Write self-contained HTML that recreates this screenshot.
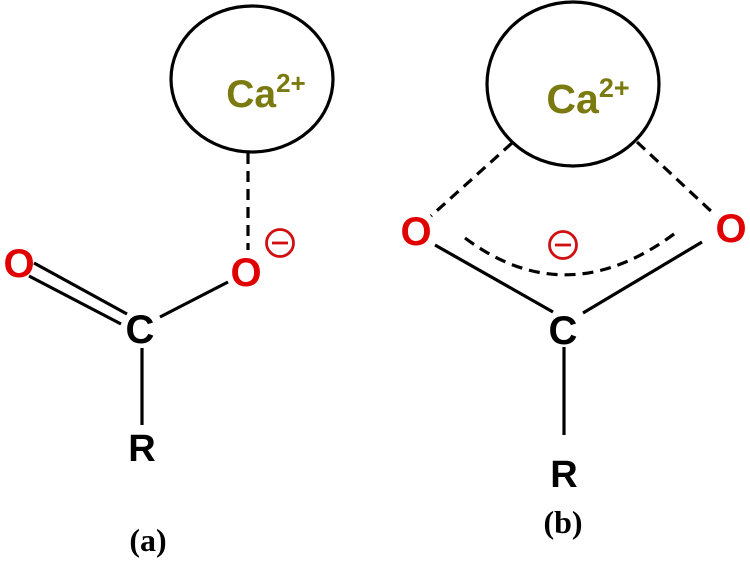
<!DOCTYPE html>
<html><head><style>body{margin:0;background:#fff}</style></head><body>
<svg width="750" height="564" viewBox="0 0 750 564" xmlns="http://www.w3.org/2000/svg">
<g fill="none" stroke="#000" stroke-width="3.2">
<ellipse cx="252" cy="79" rx="81" ry="73"/>
<line x1="248" y1="153" x2="248" y2="250" stroke-dasharray="11,7"/>
<line x1="34" y1="263" x2="127" y2="314"/>
<line x1="29" y1="276" x2="121" y2="324"/>
<line x1="160" y1="317" x2="228" y2="282"/>
<line x1="142" y1="348" x2="142" y2="425"/>
<ellipse cx="573" cy="84" rx="86" ry="82"/>
<line x1="512" y1="143" x2="431" y2="216" stroke-dasharray="11,7"/>
<line x1="637" y1="142" x2="713" y2="213" stroke-dasharray="11,7"/>
<path d="M465 238 Q568 315 678 231" stroke-dasharray="11,7"/>
<line x1="435" y1="245" x2="553" y2="312"/>
<line x1="583" y1="313" x2="702" y2="242"/>
<line x1="564" y1="347" x2="564" y2="435"/>
</g>
<g stroke="#d01010" stroke-width="2.8" fill="none">
<circle cx="280" cy="243" r="13.5"/>
<line x1="272" y1="243" x2="288" y2="243"/>
<circle cx="563" cy="245" r="13.5"/>
<line x1="555" y1="245" x2="571" y2="245"/>
</g>
<g font-family="Liberation Sans, sans-serif" font-weight="bold" text-anchor="middle">
<text x="266" y="107" font-size="39" fill="#7a7a10">Ca<tspan font-size="26" dy="-15">2+</tspan></text>
<text x="588" y="113" font-size="41" fill="#7a7a10">Ca<tspan font-size="27" dy="-16">2+</tspan></text>
<text x="19" y="277" font-size="40" fill="#e00000">O</text>
<text x="246" y="286" font-size="40" fill="#e00000">O</text>
<text x="416" y="245" font-size="40" fill="#e00000">O</text>
<text x="731" y="242" font-size="40" fill="#e00000">O</text>
<text x="140" y="343" font-size="40" fill="#000">C</text>
<text x="142" y="461" font-size="38" fill="#000">R</text>
<text x="563" y="344" font-size="40" fill="#000">C</text>
<text x="564" y="487" font-size="38" fill="#000">R</text>
</g>
<g font-family="Liberation Serif, serif" font-weight="bold" font-size="32" text-anchor="middle" fill="#000">
<text x="148" y="551">(a)</text>
<text x="563" y="533">(b)</text>
</g>
</svg>
</body></html>
